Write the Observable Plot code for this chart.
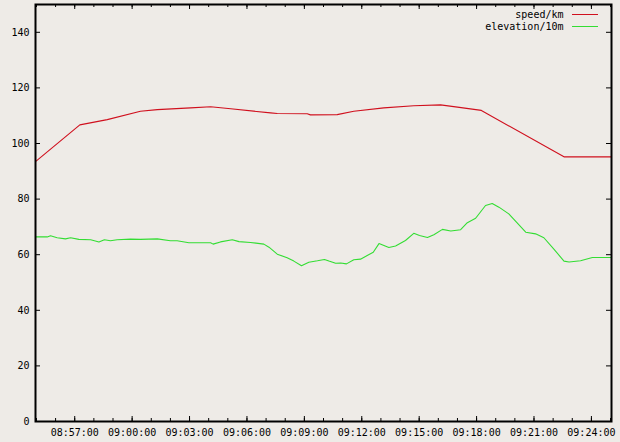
<!DOCTYPE html>
<html><head><meta charset="utf-8">
<script src="https://cdn.jsdelivr.net/npm/d3@7"></script>
<script src="https://cdn.jsdelivr.net/npm/@observablehq/plot@0.6"></script>
<style>html,body{margin:0;padding:0;background:#eeebe7;}</style>
</head><body><div id="chart"></div>
<script>
const speedTimes = ["08:54:57","08:57:16","08:58:42","09:00:26","09:01:19","09:03:03","09:04:06","09:05:09","09:07:14","09:07:35","09:09:09","09:09:19","09:10:43","09:11:35","09:13:09","09:14:43","09:16:07","09:17:00","09:18:15","09:22:34","09:25:03"];
const speedValues = [93.5,106.7,108.6,111.6,112.2,112.8,113.2,112.5,111.0,110.8,110.7,110.3,110.4,111.6,112.8,113.6,113.9,113.1,111.9,95.2,95.2];

const elevTimes = ["08:54:57","08:55:34","08:55:44","08:56:05","08:56:31","08:56:47","08:57:13","08:57:50","08:58:16","08:58:33","08:58:52","08:59:13","08:59:55","09:00:26","09:01:19","09:02:00","09:02:21","09:02:58","09:04:06","09:04:14","09:04:37","09:05:14","09:05:35","09:06:11","09:06:53","09:07:09","09:07:35","09:08:06","09:08:27","09:08:51","09:09:14","09:09:41","09:10:03","09:10:17","09:10:38","09:10:54","09:11:12","09:11:35","09:11:56","09:12:36","09:12:54","09:13:25","09:13:46","09:14:17","09:14:43","09:15:01","09:15:26","09:15:46","09:16:13","09:16:39","09:17:10","09:17:31","09:17:57","09:18:28","09:18:49","09:19:10","09:19:41","09:20:34","09:21:05","09:21:31","09:22:03","09:22:34","09:22:50","09:23:26","09:24:03","09:25:03"];
const elevValues = [66.4,66.4,66.8,66.1,65.7,66.1,65.5,65.4,64.6,65.4,65.0,65.4,65.6,65.5,65.7,65.0,65.0,64.3,64.3,63.8,64.6,65.4,64.7,64.4,63.8,62.7,60.2,58.9,57.7,56.0,57.3,57.8,58.3,57.7,56.9,57.0,56.7,58.2,58.4,60.9,64.0,62.6,63.1,65.1,67.7,66.9,66.2,67.2,69.1,68.5,69.0,71.5,73.1,77.7,78.4,77.1,74.7,68.1,67.5,66.1,61.9,57.7,57.4,57.8,59.0,59.0];

const yTicks = [0,20,40,60,80,100,120,140];
const xMajorTicks = ["08:57:00","09:00:00","09:03:00","09:06:00","09:09:00","09:12:00","09:15:00","09:18:00","09:21:00","09:24:00"];
const xDomainTimes = ["08:54:57","09:25:03"];
const yDomain = [0,150];
const legendLabels = ["speed/km","elevation/10m"];
const seriesColors = ["#d0101e","#33dd33"];

const t = s => new Date("2000-01-01T" + s + "Z");
const speed = speedTimes.map((s,i)=>({time:t(s), value:speedValues[i]}));
const elev = elevTimes.map((s,i)=>({time:t(s), value:elevValues[i]}));
const xMajor = xMajorTicks.map(t);
const xMinor = d3.utcMinute.range(t("08:55:00"), t("09:25:01"));

const W=620, H=442, mL=35, mR=9, mT=4, mB=21;
const pw = W-mL-mR, ph = H-mT-mB;

const plot = Plot.plot({
  width: W, height: H, marginLeft: mL, marginRight: mR, marginTop: mT, marginBottom: mB,
  style: {background: "#eeebe7", fontFamily: "'DejaVu Sans Mono', monospace", fontSize: "10px", color: "#000"},
  x: {type: "utc", domain: xDomainTimes.map(t), label: null},
  y: {domain: yDomain, label: null},
  marks: [
    Plot.axisY({ticks: yTicks, tickSize: 0, tickPadding: 6, label: null}),
    Plot.axisX({ticks: xMajor, tickSize: 0, tickPadding: 7, label: null, tickFormat: d3.utcFormat("%H:%M:%S")}),
    Plot.tickY(yTicks, {y: d=>d, insetRight: pw-5, stroke: "#000"}),
    Plot.tickY(yTicks, {y: d=>d, insetLeft: pw-5, stroke: "#000"}),
    Plot.tickX(xMajor, {x: d=>d, insetTop: ph-5, stroke: "#000"}),
    Plot.tickX(xMajor, {x: d=>d, insetBottom: ph-5, stroke: "#000"}),
    Plot.tickX(xMinor, {x: d=>d, insetTop: ph-3, stroke: "#000"}),
    Plot.tickX(xMinor, {x: d=>d, insetBottom: ph-3, stroke: "#000"}),
    Plot.line(speed, {x: "time", y: "value", stroke: seriesColors[0], strokeWidth: 1.1}),
    Plot.line(elev, {x: "time", y: "value", stroke: seriesColors[1], strokeWidth: 1.1}),
    Plot.frame({stroke: "#000", strokeWidth: 2})
  ]
});

const svg = d3.select(plot);
const lg = svg.append("g").attr("font-family","'DejaVu Sans Mono', monospace").attr("font-size","10px");
legendLabels.forEach((lab,i)=>{
  const y = 14.5 + i*12;
  lg.append("text").attr("x",563.5).attr("y",y).attr("dy","0.35em").attr("text-anchor","end").attr("fill","#000").text(lab);
  lg.append("line").attr("x1",572).attr("x2",598).attr("y1",y).attr("y2",y).attr("stroke",seriesColors[i]).attr("stroke-width",1);
});
document.getElementById("chart").appendChild(plot);
</script>
</body></html>
